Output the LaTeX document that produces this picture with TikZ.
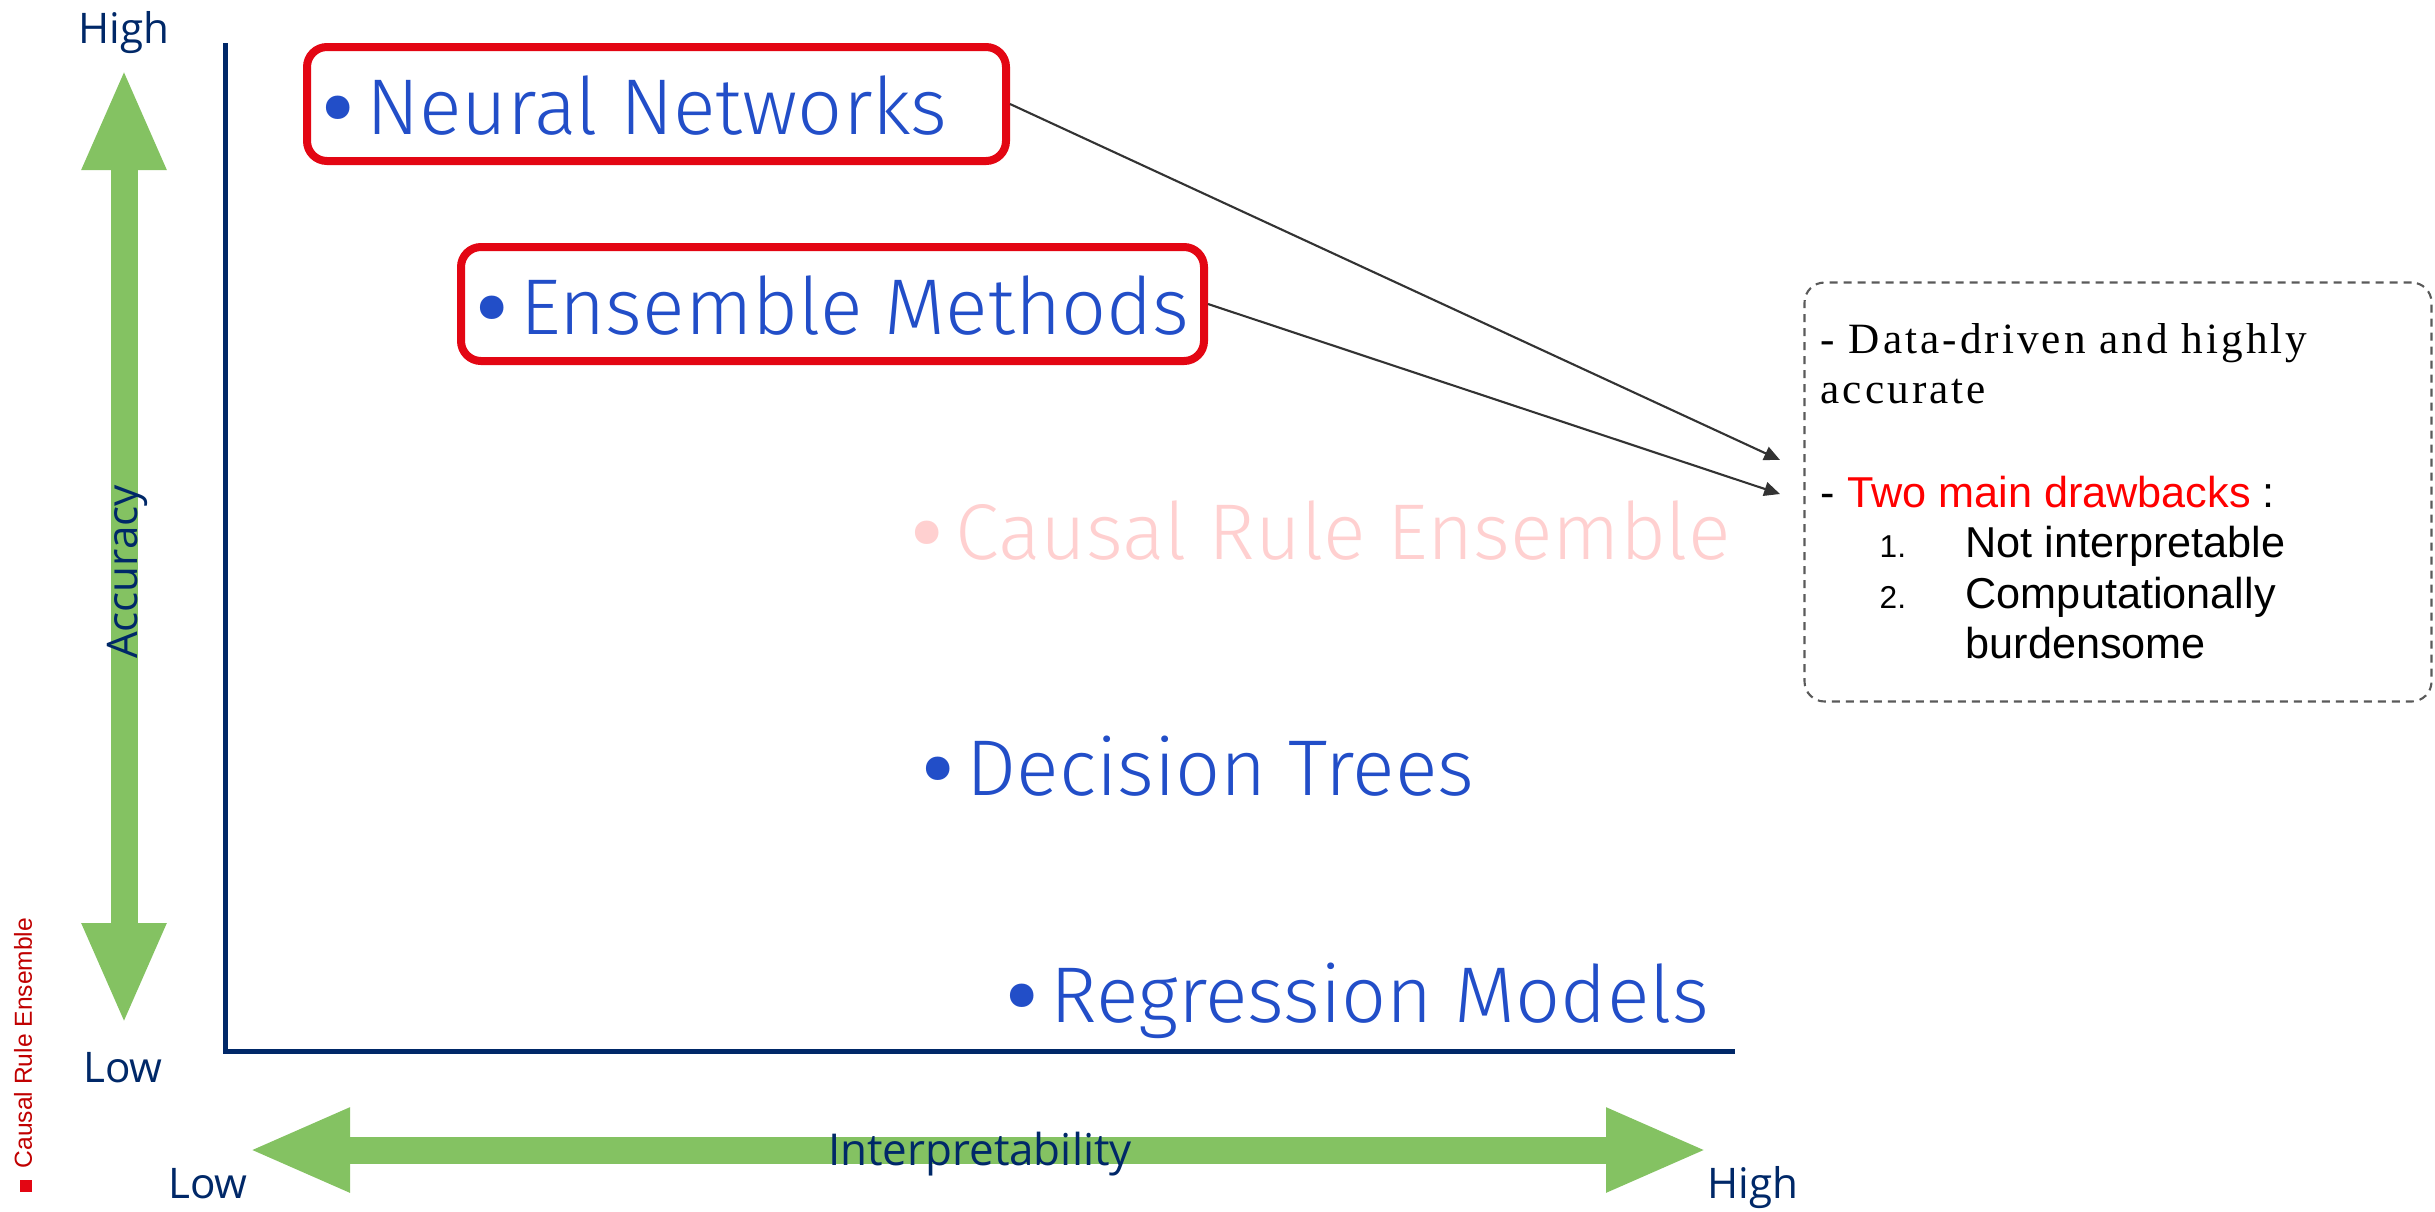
\documentclass[tikz,border=0pt]{standalone}
\usepackage{fontspec}
\setmainfont{Liberation Sans}
\newfontfamily\labelfont{Fira Sans}[UprightFont=* Light]
\newfontfamily\axisfont{Open Sans}
\newfontfamily\timesfont{Liberation Serif}[LetterSpace=7]
\usepackage{tikz}
\usetikzlibrary{arrows.meta, positioning}

\definecolor{methodblue}{RGB}{34,78,200}
\definecolor{axisnavy}{RGB}{0,40,104}
\definecolor{arrowgreen}{RGB}{132,194,98}
\definecolor{boxred}{RGB}{227,6,19}
\definecolor{palered}{RGB}{255,208,208}
\definecolor{noteline}{RGB}{90,90,90}
\definecolor{darkred}{RGB}{192,0,0}

% bullet in front of each method
\newcommand{\mdot}{\hspace{-0.15em}\raisebox{-0.36em}{\scalebox{2}{\textbullet}}\hspace{0.07em}}

\begin{document}
\begin{tikzpicture}[
  x=0.1mm, y=-0.1mm,
  >=Latex,
  method/.style={font=\labelfont\fontsize{22.5}{26}\selectfont, text=methodblue, inner sep=0pt},
  picked/.style={
    method, draw=boxred, line width=0.8mm,
    rounded corners=2mm,
    text height=6mm, text depth=0pt,
    inner xsep=2mm, inner ysep=2.7mm
  },
  faded/.style={method, text=palered},
  axislabel/.style={font=\axisfont\fontsize{12}{14}\selectfont, text=axisnavy, inner sep=0pt},
  rangearrow/.style={arrowgreen, line width=2.7mm,
    {Triangle[length=10.2mm, width=7.7mm]}-{Triangle[length=10.2mm, width=7.7mm]}},
  link/.style={-{Triangle[length=4.5pt, width=4pt]}, draw=black!80, line width=0.6pt},
  notebox/.style={draw=noteline, dash pattern=on 0.8mm off 0.6mm, line width=0.6pt,
    rounded corners=2mm, minimum width=62.7mm, minimum height=41.9mm},
  serifline/.style={font=\timesfont\fontsize{12.3}{14}\selectfont, inner sep=0pt, anchor=base west},
  sansline/.style={font=\fontsize{12.3}{14}\selectfont, inner sep=0pt, anchor=base west},
  numline/.style={sansline, font=\fontsize{9}{10}\selectfont},
]
\useasboundingbox (0,0) rectangle (2435,1211);

% --- Axes ---
\coordinate (ytop) at (225,43);
\coordinate (origin) at (225,1051);
\coordinate (xend) at (1735,1051);
\draw[axisnavy, line width=0.5mm] (ytop) -- (origin) -- (xend);

% --- Green range arrows ---
\draw[rangearrow] (124,68) -- (124,1025);
\draw[rangearrow] (248,1150) -- (1708,1150);

% --- Axis labels ---
\node[axislabel, anchor=base] (accHigh) at (124,43) {High};
\node[axislabel, anchor=base] (accLow) at (123,1082) {Low};
\node[axislabel, anchor=base, rotate=90] (accuracy) at (137,572) {Accuracy};
\node[axislabel, anchor=base] (intLow) at (208,1198) {Low};
\node[axislabel, anchor=base] (intHigh) at (1753,1198) {High};
\node[axislabel, anchor=base, font=\axisfont\fontsize{12.5}{14}\selectfont] (interp) at (980,1165) {Interpretability};

% --- Methods ---
\node[picked, anchor=base west] (nn) at (303,134) {\makebox[65.9mm][l]{\mdot Neural Networks}};
\node[picked, anchor=base west] (ens) at (457,334) {\makebox[70.3mm][l]{\mdot Ensemble Methods}};
\node[faded, anchor=base west] (cre) at (916,559) {\mdot Causal Rule Ensemble};
\node[method, anchor=base west] (dt) at (927,795) {\mdot Decision Trees};
\node[method, anchor=base west] (reg) at (1011,1022) {\mdot Regression Models};

% --- Notes ---
\node[notebox] (notes) at (2118,492) {};
\node[serifline] (driven) at (1820,353) {- Data-driven and highly};
\node[serifline] (accurate) at (1820,403) {accurate};
\node[sansline] (drawbacks) at (1820,507) {- \textcolor{red}{Two main drawbacks} :};
\node[numline] (numA) at (1879,557) {1.};
\node[sansline] (itemA) at (1965,557) {Not interpretable};
\node[numline] (numB) at (1879,608) {2.};
\node[sansline] (itemB) at (1965,608) {Computationally};
\node[sansline] (itemBb) at (1965,658) {burdensome};

\coordinate (noteA) at (1780,460);
\coordinate (noteB) at (1780,494);
\draw[link] (nn.east) -- (noteA);
\draw[link] (ens.east) -- (noteB);

% --- Side tag ---
\node[rotate=90, inner sep=0pt, text=darkred, font=\fontsize{7}{8}\selectfont] (tag) at (23,1055)
  {{\color{boxred}\rule{1.2mm}{1.2mm}}\hspace{1.2mm}Causal Rule Ensemble};

\end{tikzpicture}
\end{document}
